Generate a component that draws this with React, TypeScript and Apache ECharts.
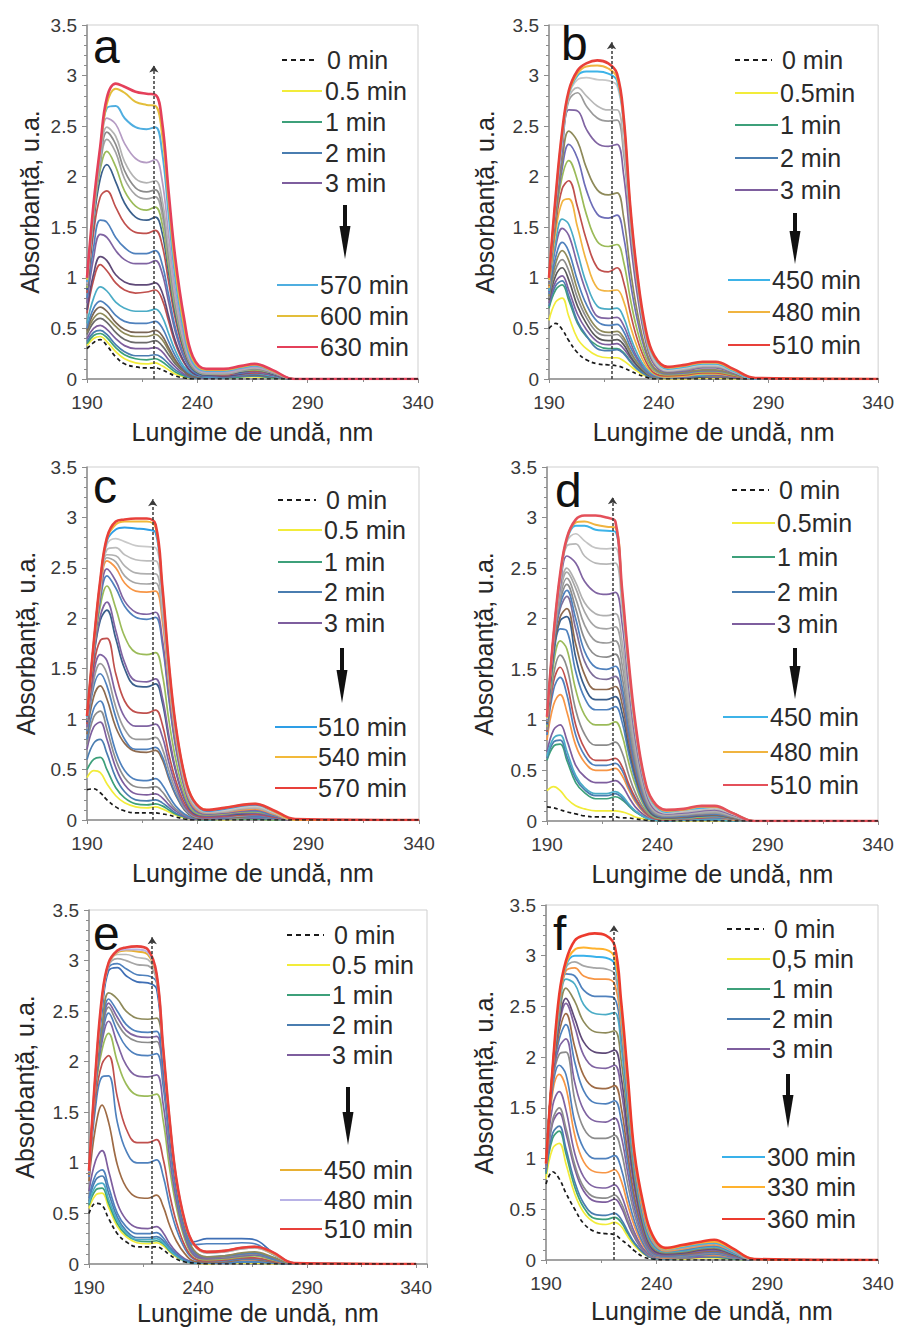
import React, { useEffect, useRef } from 'react';
import * as echarts from 'echarts';

// Wavelength grid (nm) shared by every spectrum
const WL = [190, 193, 196, 199, 203, 207, 212, 217, 221, 224, 227, 230, 234, 238, 244, 252, 260, 266, 274, 284, 340];

// ---------- Panel a ----------
const A_LEGEND = ['0 min', '0.5 min', '1 min', '2 min', '3 min', '570 min', '600 min', '630 min'];
const A_VALUES = [
  [0.30,0.36,0.39,0.33,0.22,0.15,0.12,0.11,0.11,0.09, 0.06,0.03,0.01,0,0,0,0,0,0,0, 0],
  [0.33,0.40,0.42,0.37,0.27,0.20,0.16,0.15,0.16,0.13, 0.09,0.05,0.02,0.01,0.01,0.01,0.02,0.02,0.01,0, 0],
  [0.35,0.43,0.45,0.41,0.31,0.24,0.20,0.19,0.20,0.17, 0.12,0.07,0.03,0.01,0.01,0.01,0.02,0.03,0.01,0, 0],
  [0.37,0.46,0.48,0.44,0.34,0.27,0.23,0.23,0.24,0.21, 0.15,0.09,0.04,0.01,0.01,0.01,0.03,0.03,0.02,0, 0],
  [0.40,0.50,0.53,0.49,0.40,0.33,0.30,0.30,0.31,0.27, 0.19,0.12,0.05,0.02,0.01,0.02,0.03,0.04,0.02,0, 0],
  [0.44,0.56,0.60,0.56,0.46,0.39,0.36,0.36,0.38,0.33, 0.24,0.15,0.07,0.02,0.02,0.02,0.04,0.04,0.02,0, 0],
  [0.46,0.60,0.65,0.61,0.52,0.45,0.42,0.42,0.44,0.39, 0.28,0.17,0.08,0.03,0.02,0.02,0.04,0.05,0.03,0, 0],
  [0.48,0.65,0.71,0.67,0.56,0.49,0.46,0.46,0.48,0.43, 0.31,0.19,0.08,0.03,0.02,0.02,0.04,0.05,0.03,0, 0],
  [0.50,0.70,0.77,0.73,0.63,0.57,0.55,0.55,0.57,0.51, 0.37,0.23,0.10,0.04,0.02,0.02,0.04,0.05,0.03,0, 0],
  [0.55,0.80,0.91,0.87,0.76,0.70,0.67,0.67,0.69,0.62, 0.45,0.28,0.12,0.05,0.02,0.03,0.05,0.06,0.03,0, 0],
  [0.65,0.98,1.13,1.07,0.95,0.88,0.85,0.86,0.88,0.79, 0.57,0.35,0.16,0.06,0.03,0.03,0.05,0.06,0.04,0, 0],
  [0.68,1.04,1.21,1.17,1.03,0.96,0.93,0.93,0.95,0.86, 0.62,0.38,0.17,0.06,0.03,0.03,0.05,0.07,0.04,0, 0],
  [0.75,1.20,1.43,1.40,1.27,1.18,1.14,1.14,1.17,1.05, 0.76,0.47,0.21,0.08,0.03,0.04,0.06,0.07,0.04,0, 0],
  [0.80,1.30,1.57,1.55,1.40,1.30,1.24,1.24,1.27,1.14, 0.83,0.51,0.23,0.08,0.03,0.04,0.06,0.08,0.05,0, 0],
  [0.85,1.45,1.80,1.86,1.70,1.54,1.45,1.44,1.47,1.33, 0.96,0.60,0.27,0.10,0.04,0.04,0.07,0.08,0.05,0, 0],
  [0.88,1.55,1.98,2.12,1.95,1.74,1.60,1.57,1.60,1.45, 1.05,0.65,0.29,0.10,0.04,0.05,0.07,0.09,0.05,0, 0],
  [0.90,1.60,2.07,2.25,2.10,1.86,1.71,1.67,1.70,1.54, 1.11,0.69,0.31,0.11,0.05,0.05,0.08,0.09,0.06,0, 0],
  [0.92,1.62,2.12,2.37,2.24,1.98,1.82,1.78,1.80,1.63, 1.18,0.73,0.33,0.12,0.05,0.05,0.08,0.10,0.06,0, 0],
  [0.93,1.64,2.15,2.44,2.32,2.06,1.89,1.85,1.87,1.70, 1.23,0.76,0.34,0.12,0.06,0.06,0.09,0.10,0.06,0, 0],
  [0.94,1.65,2.18,2.49,2.40,2.15,1.98,1.94,1.96,1.78, 1.29,0.80,0.36,0.13,0.06,0.06,0.09,0.11,0.07,0, 0],
  [0.95,1.66,2.20,2.58,2.52,2.33,2.18,2.14,2.17,1.97, 1.42,0.88,0.40,0.14,0.07,0.07,0.10,0.12,0.07,0, 0],
  [0.96,1.68,2.25,2.68,2.70,2.58,2.49,2.47,2.49,2.25, 1.62,1.00,0.46,0.16,0.08,0.08,0.11,0.13,0.08,0, 0],
  [0.98,1.70,2.27,2.72,2.87,2.83,2.74,2.71,2.70,2.42, 1.75,1.10,0.52,0.19,0.09,0.09,0.12,0.14,0.08,0, 0],
  [1.00,1.74,2.30,2.78,2.92,2.89,2.84,2.82,2.81,2.55, 1.85,1.20,0.60,0.22,0.10,0.10,0.13,0.15,0.09,0, 0],
];

// ---------- Panel b ----------
const B_LEGEND = ['0 min', '0.5min', '1 min', '2 min', '3 min', '450 min', '480 min', '510 min'];
const B_VALUES = [
  [0.50,0.55,0.49,0.38,0.26,0.19,0.15,0.14,0.13,0.11, 0.08,0.05,0.02,0,0,0,0,0,0,0, 0],
  [0.58,0.76,0.80,0.62,0.40,0.30,0.23,0.21,0.21,0.18, 0.13,0.08,0.03,0.01,0,0,0.01,0.01,0,0, 0],
  [0.70,0.88,0.93,0.78,0.55,0.42,0.33,0.30,0.30,0.26, 0.18,0.11,0.05,0.02,0.01,0.01,0.02,0.02,0.01,0, 0],
  [0.72,0.92,0.97,0.82,0.57,0.43,0.30,0.28,0.29,0.25, 0.17,0.10,0.04,0.01,0.01,0.01,0.02,0.02,0.01,0, 0],
  [0.75,0.96,1.02,0.88,0.64,0.49,0.37,0.34,0.35,0.30, 0.21,0.13,0.06,0.02,0.01,0.01,0.02,0.02,0.01,0, 0],
  [0.78,1.02,1.10,0.98,0.72,0.55,0.41,0.38,0.39,0.34, 0.23,0.14,0.06,0.02,0.01,0.01,0.02,0.03,0.01,0, 0],
  [0.80,1.08,1.18,1.07,0.80,0.61,0.46,0.43,0.44,0.38, 0.26,0.16,0.07,0.02,0.01,0.02,0.03,0.03,0.02,0, 0],
  [0.82,1.14,1.27,1.17,0.88,0.66,0.50,0.46,0.47,0.41, 0.28,0.17,0.07,0.02,0.01,0.02,0.03,0.03,0.02,0, 0],
  [0.84,1.20,1.35,1.26,0.97,0.74,0.57,0.53,0.54,0.47, 0.32,0.20,0.08,0.03,0.01,0.02,0.03,0.04,0.02,0, 0],
  [0.86,1.30,1.49,1.42,1.13,0.86,0.62,0.60,0.61,0.53, 0.37,0.22,0.10,0.03,0.02,0.02,0.04,0.04,0.02,0, 0],
  [0.87,1.35,1.58,1.53,1.25,0.95,0.72,0.69,0.70,0.61, 0.42,0.26,0.11,0.04,0.02,0.03,0.04,0.05,0.03,0, 0],
  [0.90,1.45,1.75,1.78,1.50,1.17,0.90,0.87,0.88,0.77, 0.53,0.33,0.14,0.05,0.02,0.03,0.05,0.05,0.03,0, 0],
  [0.92,1.52,1.88,1.96,1.70,1.38,1.10,1.06,1.10,0.96, 0.66,0.41,0.18,0.06,0.03,0.04,0.06,0.06,0.03,0, 0],
  [0.93,1.58,2.00,2.16,1.96,1.63,1.36,1.31,1.33,1.16, 0.80,0.50,0.22,0.08,0.04,0.05,0.07,0.07,0.04,0, 0],
  [0.94,1.62,2.08,2.32,2.18,1.87,1.63,1.59,1.62,1.41, 0.97,0.61,0.27,0.10,0.05,0.06,0.08,0.08,0.05,0, 0],
  [0.95,1.65,2.15,2.45,2.35,2.09,1.87,1.82,1.84,1.60, 1.10,0.69,0.30,0.11,0.06,0.07,0.09,0.09,0.05,0, 0],
  [0.96,1.70,2.25,2.66,2.65,2.47,2.33,2.30,2.32,2.02, 1.39,0.87,0.38,0.14,0.07,0.08,0.11,0.11,0.06,0, 0],
  [0.97,1.73,2.32,2.75,2.83,2.70,2.58,2.55,2.56,2.23, 1.53,0.96,0.42,0.16,0.08,0.09,0.12,0.12,0.07,0, 0],
  [0.97,1.74,2.35,2.78,2.88,2.80,2.70,2.66,2.66,2.31, 1.59,1.00,0.44,0.17,0.08,0.10,0.13,0.13,0.07,0, 0],
  [0.97,1.75,2.38,2.80,2.96,2.98,2.96,2.95,2.90,2.50, 1.65,1.03,0.46,0.19,0.09,0.11,0.14,0.14,0.08,0, 0],
  [0.98,1.76,2.40,2.82,3.00,3.04,3.04,3.02,2.95,2.54, 1.67,1.05,0.47,0.21,0.10,0.12,0.15,0.15,0.08,0, 0],
  [0.98,1.78,2.43,2.83,3.02,3.09,3.10,3.07,2.98,2.56, 1.70,1.06,0.48,0.22,0.11,0.13,0.16,0.16,0.09,0.01, 0],
  [1.00,1.80,2.45,2.85,3.05,3.12,3.15,3.12,3.02,2.60, 1.72,1.08,0.50,0.23,0.12,0.14,0.17,0.17,0.10,0.01, 0],
];

// ---------- Panel c ----------
const C_LEGEND = ['0 min', '0.5 min', '1 min', '2 min', '3 min', '510 min', '540 min', '570 min'];
const C_VALUES = [
  [0.30,0.31,0.27,0.20,0.13,0.09,0.07,0.07,0.07,0.06, 0.05,0.03,0.01,0,0,0,0,0,0,0, 0],
  [0.42,0.49,0.47,0.36,0.24,0.17,0.13,0.12,0.13,0.11, 0.08,0.05,0.02,0.01,0,0,0.01,0.01,0,0, 0],
  [0.50,0.60,0.62,0.50,0.32,0.22,0.16,0.15,0.16,0.14, 0.10,0.06,0.03,0.01,0,0.01,0.01,0.01,0,0, 0],
  [0.60,0.76,0.80,0.66,0.42,0.28,0.20,0.19,0.20,0.17, 0.12,0.07,0.03,0.01,0,0.01,0.02,0.02,0.01,0, 0],
  [0.70,0.92,0.97,0.80,0.52,0.35,0.26,0.25,0.26,0.22, 0.15,0.09,0.04,0.01,0.01,0.01,0.02,0.02,0.01,0, 0],
  [0.75,1.02,1.08,0.90,0.60,0.42,0.33,0.32,0.33,0.28, 0.19,0.11,0.05,0.02,0.01,0.01,0.02,0.03,0.01,0, 0],
  [0.80,1.10,1.18,1.00,0.68,0.49,0.40,0.39,0.41,0.35, 0.24,0.14,0.06,0.02,0.01,0.02,0.03,0.03,0.02,0, 0],
  [0.85,1.22,1.33,1.20,0.92,0.76,0.68,0.67,0.69,0.60, 0.41,0.25,0.10,0.03,0.01,0.02,0.03,0.04,0.02,0, 0],
  [0.88,1.32,1.45,1.33,1.02,0.80,0.70,0.70,0.72,0.63, 0.43,0.26,0.11,0.04,0.02,0.02,0.04,0.04,0.02,0, 0],
  [0.90,1.38,1.55,1.45,1.12,0.90,0.80,0.80,0.82,0.71, 0.49,0.30,0.12,0.04,0.02,0.03,0.04,0.05,0.03,0, 0],
  [0.92,1.45,1.64,1.58,1.25,1.02,0.93,0.93,0.95,0.83, 0.57,0.35,0.14,0.05,0.02,0.03,0.05,0.05,0.03,0, 0],
  [0.95,1.52,1.78,1.80,1.45,1.18,1.07,1.06,1.09,0.95, 0.65,0.40,0.17,0.06,0.03,0.04,0.05,0.06,0.03,0, 0],
  [0.97,1.60,1.98,2.08,1.80,1.50,1.33,1.32,1.35,1.17, 0.80,0.49,0.21,0.07,0.04,0.05,0.06,0.07,0.04,0, 0],
  [0.98,1.62,2.02,2.16,1.88,1.56,1.38,1.37,1.40,1.22, 0.84,0.51,0.22,0.08,0.04,0.05,0.07,0.07,0.04,0, 0],
  [0.99,1.66,2.12,2.32,2.10,1.82,1.66,1.64,1.66,1.45, 0.99,0.61,0.26,0.09,0.05,0.06,0.08,0.08,0.05,0, 0],
  [1.00,1.68,2.18,2.42,2.30,2.12,2.01,1.99,2.01,1.75, 1.20,0.73,0.32,0.11,0.06,0.07,0.09,0.09,0.05,0, 0],
  [1.00,1.69,2.22,2.49,2.37,2.17,2.06,2.04,2.06,1.80, 1.23,0.75,0.33,0.12,0.06,0.07,0.09,0.10,0.06,0, 0],
  [1.01,1.70,2.26,2.57,2.50,2.35,2.27,2.26,2.27,1.98, 1.35,0.83,0.36,0.14,0.07,0.08,0.10,0.11,0.06,0, 0],
  [1.01,1.71,2.28,2.60,2.56,2.42,2.35,2.34,2.35,2.04, 1.40,0.86,0.38,0.15,0.07,0.08,0.11,0.12,0.07,0, 0],
  [1.01,1.72,2.30,2.63,2.62,2.52,2.45,2.44,2.44,2.10, 1.44,0.88,0.39,0.16,0.08,0.09,0.12,0.12,0.07,0, 0],
  [1.02,1.72,2.32,2.68,2.70,2.63,2.58,2.57,2.57,2.18, 1.48,0.90,0.41,0.17,0.08,0.09,0.12,0.13,0.08,0, 0],
  [1.02,1.73,2.34,2.73,2.79,2.76,2.72,2.71,2.70,2.24, 1.50,0.92,0.43,0.18,0.09,0.10,0.13,0.14,0.08,0, 0],
  [1.02,1.74,2.36,2.77,2.88,2.90,2.89,2.88,2.85,2.28, 1.52,0.93,0.44,0.19,0.09,0.11,0.14,0.15,0.09,0, 0],
  [1.03,1.74,2.37,2.79,2.93,2.96,2.96,2.96,2.90,2.31, 1.54,0.94,0.45,0.20,0.10,0.12,0.15,0.16,0.09,0, 0],
  [1.03,1.75,2.38,2.80,2.96,2.98,2.99,2.99,2.93,2.33, 1.55,0.95,0.45,0.20,0.10,0.12,0.15,0.16,0.10,0.01, 0],
];

// ---------- Panel d ----------
const D_LEGEND = ['0 min', '0.5min', '1 min', '2 min', '3 min', '450 min', '480 min', '510 min'];
const D_VALUES = [
  [0.14,0.13,0.11,0.09,0.07,0.05,0.04,0.04,0.04,0.03, 0.03,0.02,0.01,0,0,0,0,0,0,0, 0],
  [0.30,0.34,0.30,0.22,0.15,0.12,0.10,0.10,0.10,0.09, 0.07,0.04,0.02,0.01,0,0,0,0,0,0, 0],
  [0.60,0.74,0.76,0.60,0.38,0.28,0.22,0.22,0.24,0.21, 0.15,0.09,0.04,0.01,0,0.01,0.01,0.01,0,0, 0],
  [0.62,0.78,0.80,0.64,0.42,0.31,0.25,0.25,0.27,0.23, 0.16,0.10,0.04,0.01,0,0.01,0.01,0.01,0,0, 0],
  [0.68,0.90,0.95,0.80,0.55,0.44,0.38,0.38,0.40,0.35, 0.24,0.14,0.06,0.02,0.01,0.01,0.02,0.02,0.01,0, 0],
  [0.64,0.82,0.85,0.69,0.45,0.33,0.27,0.27,0.29,0.25, 0.17,0.10,0.04,0.01,0,0.01,0.02,0.02,0,0, 0],
  [0.80,1.15,1.25,1.08,0.75,0.58,0.50,0.50,0.52,0.45, 0.31,0.19,0.08,0.03,0.01,0.02,0.03,0.03,0.01,0, 0],
  [0.85,1.30,1.42,1.25,0.85,0.65,0.55,0.55,0.57,0.50, 0.34,0.21,0.09,0.03,0.01,0.02,0.03,0.03,0.02,0, 0],
  [0.88,1.38,1.52,1.36,0.95,0.72,0.60,0.60,0.62,0.54, 0.37,0.23,0.10,0.03,0.01,0.02,0.03,0.04,0.02,0, 0],
  [0.90,1.45,1.64,1.52,1.10,0.86,0.75,0.75,0.78,0.68, 0.46,0.28,0.12,0.04,0.02,0.02,0.04,0.04,0.02,0, 0],
  [0.93,1.55,1.78,1.70,1.30,1.05,0.95,0.95,0.98,0.85, 0.58,0.36,0.15,0.05,0.02,0.03,0.04,0.05,0.03,0, 0],
  [0.95,1.62,1.90,1.88,1.48,1.22,1.10,1.10,1.13,0.98, 0.67,0.41,0.17,0.06,0.03,0.03,0.05,0.05,0.03,0, 0],
  [0.96,1.68,1.98,2.02,1.62,1.33,1.20,1.20,1.23,1.07, 0.73,0.45,0.19,0.06,0.03,0.04,0.05,0.06,0.03,0, 0],
  [0.97,1.70,2.02,2.10,1.75,1.45,1.30,1.30,1.33,1.16, 0.79,0.48,0.20,0.07,0.03,0.04,0.06,0.06,0.03,0, 0],
  [0.98,1.74,2.10,2.22,1.90,1.58,1.42,1.40,1.43,1.25, 0.85,0.52,0.22,0.08,0.04,0.05,0.06,0.07,0.04,0, 0],
  [0.98,1.76,2.14,2.28,2.00,1.68,1.52,1.50,1.53,1.33, 0.91,0.56,0.24,0.08,0.04,0.05,0.07,0.07,0.04,0, 0],
  [0.99,1.78,2.18,2.34,2.10,1.80,1.64,1.62,1.65,1.43, 0.98,0.60,0.26,0.09,0.05,0.06,0.07,0.08,0.04,0, 0],
  [0.99,1.79,2.22,2.40,2.20,1.94,1.78,1.76,1.78,1.55, 1.06,0.65,0.28,0.10,0.05,0.06,0.08,0.08,0.05,0, 0],
  [1.00,1.80,2.26,2.46,2.30,2.07,1.92,1.90,1.92,1.67, 1.14,0.70,0.30,0.11,0.06,0.07,0.08,0.09,0.05,0, 0],
  [1.00,1.80,2.28,2.50,2.36,2.16,2.05,2.03,2.05,1.78, 1.22,0.75,0.32,0.12,0.06,0.07,0.09,0.10,0.05,0, 0],
  [1.00,1.81,2.32,2.62,2.55,2.37,2.26,2.24,2.26,1.96, 1.34,0.82,0.36,0.13,0.07,0.08,0.10,0.11,0.06,0, 0],
  [1.01,1.82,2.36,2.72,2.74,2.62,2.55,2.54,2.55,2.10, 1.43,0.88,0.39,0.15,0.08,0.09,0.11,0.12,0.07,0, 0],
  [1.01,1.83,2.40,2.76,2.84,2.77,2.70,2.69,2.70,2.18, 1.48,0.91,0.41,0.17,0.08,0.10,0.12,0.13,0.07,0, 0],
  [1.02,1.84,2.42,2.78,2.92,2.92,2.88,2.87,2.86,2.24, 1.53,0.94,0.42,0.18,0.09,0.11,0.13,0.14,0.08,0, 0],
  [1.02,1.84,2.43,2.79,2.95,2.96,2.93,2.91,2.90,2.26, 1.55,0.95,0.43,0.19,0.10,0.11,0.14,0.14,0.08,0, 0],
  [1.03,1.85,2.45,2.80,2.98,3.02,3.02,3.00,2.96,2.30, 1.58,0.98,0.44,0.20,0.11,0.12,0.15,0.15,0.08,0, 0],
];

// ---------- Panel e ----------
const E_LEGEND = ['0 min', '0.5 min', '1 min', '2 min', '3 min', '450 min', '480 min', '510 min'];
const E_VALUES = [
  [0.50,0.60,0.58,0.45,0.30,0.22,0.17,0.17,0.17,0.14, 0.09,0.05,0.02,0.01,0,0,0,0,0,0, 0],
  [0.55,0.68,0.70,0.56,0.37,0.27,0.21,0.20,0.21,0.18, 0.12,0.07,0.03,0.01,0,0.01,0.01,0.01,0,0, 0],
  [0.58,0.73,0.75,0.60,0.40,0.29,0.23,0.22,0.23,0.20, 0.13,0.08,0.03,0.01,0.01,0.01,0.02,0.02,0.01,0, 0],
  [0.62,0.83,0.87,0.70,0.46,0.33,0.26,0.26,0.27,0.23, 0.15,0.09,0.04,0.01,0.01,0.01,0.02,0.02,0.01,0, 0],
  [0.72,1.02,1.12,0.92,0.60,0.44,0.36,0.35,0.37,0.31, 0.20,0.12,0.05,0.02,0.01,0.01,0.02,0.02,0.01,0, 0],
  [0.60,0.77,0.80,0.64,0.43,0.31,0.24,0.24,0.25,0.21, 0.14,0.08,0.03,0.01,0.01,0.01,0.02,0.02,0.01,0, 0],
  [0.65,0.88,0.93,0.76,0.50,0.37,0.30,0.30,0.31,0.26, 0.17,0.10,0.04,0.02,0.01,0.01,0.02,0.02,0.01,0, 0],
  [0.82,1.35,1.57,1.40,0.98,0.76,0.66,0.65,0.68,0.57, 0.38,0.23,0.10,0.03,0.02,0.02,0.04,0.04,0.02,0, 0],
  [0.86,1.55,1.85,1.86,1.40,1.12,1.00,1.00,1.03,0.87, 0.58,0.35,0.15,0.05,0.03,0.03,0.05,0.05,0.03,0, 0],
  [0.88,1.65,1.98,2.06,1.65,1.34,1.20,1.20,1.23,1.04, 0.69,0.42,0.18,0.06,0.03,0.04,0.06,0.06,0.03,0, 0],
  [0.89,1.72,2.12,2.28,2.00,1.78,1.67,1.66,1.68,1.42, 0.94,0.57,0.24,0.08,0.04,0.05,0.07,0.08,0.04,0, 0],
  [0.90,1.75,2.20,2.40,2.18,1.97,1.86,1.85,1.87,1.58, 1.05,0.63,0.27,0.09,0.05,0.06,0.08,0.09,0.05,0, 0],
  [0.90,1.77,2.25,2.48,2.30,2.15,2.07,2.06,2.08,1.76, 1.17,0.70,0.30,0.11,0.06,0.07,0.09,0.10,0.05,0, 0],
  [0.90,1.78,2.28,2.54,2.38,2.26,2.20,2.19,2.20,1.86, 1.23,0.74,0.32,0.12,0.06,0.07,0.09,0.10,0.06,0, 0],
  [0.90,1.79,2.30,2.58,2.44,2.31,2.25,2.24,2.25,1.90, 1.26,0.76,0.33,0.12,0.06,0.08,0.10,0.11,0.06,0, 0],
  [0.91,1.80,2.32,2.62,2.50,2.37,2.30,2.29,2.30,1.95, 1.29,0.78,0.34,0.13,0.07,0.08,0.10,0.11,0.06,0, 0],
  [0.91,1.81,2.35,2.68,2.62,2.50,2.43,2.42,2.43,2.06, 1.36,0.82,0.36,0.14,0.07,0.08,0.11,0.12,0.07,0, 0],
  [0.91,1.84,2.50,2.90,2.93,2.85,2.79,2.78,2.72,2.00, 1.33,0.80,0.38,0.22,0.25,0.25,0.25,0.24,0.12,0.01, 0],
  [0.91,1.85,2.55,2.93,2.97,2.92,2.86,2.85,2.78,2.03, 1.36,0.82,0.39,0.19,0.20,0.20,0.21,0.20,0.10,0.01, 0],
  [0.91,1.86,2.58,2.95,3.02,3.00,2.96,2.95,2.80,2.07, 1.38,0.83,0.40,0.19,0.11,0.12,0.15,0.16,0.10,0.01, 0],
  [0.92,1.87,2.60,2.96,3.06,3.06,3.03,3.01,2.83,2.10, 1.40,0.84,0.41,0.19,0.11,0.12,0.15,0.16,0.11,0.01, 0],
  [0.92,1.88,2.62,2.97,3.08,3.10,3.09,3.06,2.85,2.12, 1.41,0.84,0.41,0.20,0.12,0.13,0.16,0.17,0.11,0.01, 0],
  [0.92,1.88,2.63,2.97,3.09,3.11,3.11,3.08,2.86,2.13, 1.42,0.85,0.42,0.20,0.12,0.13,0.16,0.17,0.12,0.01, 0],
  [0.92,1.90,2.65,2.98,3.10,3.13,3.14,3.11,2.87,2.14, 1.42,0.85,0.42,0.20,0.12,0.13,0.16,0.17,0.12,0.01, 0],
];

// ---------- Panel f ----------
const F_LEGEND = ['0 min', '0,5 min', '1 min', '2 min', '3 min', '300 min', '330 min', '360 min'];
const F_VALUES = [
  [0.75,0.87,0.80,0.66,0.50,0.36,0.28,0.26,0.25,0.20, 0.15,0.09,0.03,0.01,0,0,0,0,0,0, 0],
  [0.80,1.10,1.15,0.95,0.65,0.47,0.37,0.35,0.37,0.33, 0.23,0.14,0.06,0.02,0.01,0.01,0.02,0.02,0.01,0, 0],
  [0.85,1.20,1.27,1.05,0.72,0.52,0.41,0.40,0.42,0.37, 0.26,0.16,0.07,0.02,0.01,0.02,0.03,0.03,0.01,0, 0],
  [0.87,1.25,1.32,1.10,0.77,0.56,0.45,0.44,0.46,0.40, 0.28,0.17,0.07,0.02,0.01,0.02,0.03,0.03,0.02,0, 0],
  [0.90,1.35,1.45,1.25,0.90,0.68,0.58,0.57,0.60,0.52, 0.36,0.22,0.09,0.03,0.02,0.02,0.03,0.04,0.02,0, 0],
  [0.91,1.38,1.50,1.30,0.94,0.72,0.62,0.61,0.64,0.56, 0.39,0.24,0.10,0.03,0.02,0.02,0.04,0.04,0.02,0, 0],
  [0.93,1.52,1.66,1.48,1.05,0.82,0.72,0.71,0.74,0.64, 0.45,0.27,0.11,0.04,0.02,0.03,0.04,0.05,0.03,0, 0],
  [0.95,1.65,1.83,1.70,1.23,0.97,0.87,0.86,0.89,0.78, 0.54,0.33,0.14,0.05,0.02,0.03,0.05,0.05,0.03,0, 0],
  [0.95,1.70,1.92,1.83,1.36,1.10,1.00,1.00,1.03,0.90, 0.62,0.38,0.16,0.05,0.03,0.03,0.05,0.06,0.03,0, 0],
  [0.96,1.76,2.03,2.05,1.58,1.30,1.20,1.20,1.23,1.07, 0.74,0.45,0.19,0.06,0.03,0.04,0.06,0.07,0.04,0, 0],
  [0.96,1.80,2.10,2.18,1.75,1.48,1.37,1.36,1.40,1.22, 0.85,0.51,0.22,0.07,0.04,0.05,0.07,0.08,0.04,0, 0],
  [0.96,1.82,2.18,2.32,1.95,1.67,1.55,1.54,1.57,1.37, 0.95,0.57,0.25,0.08,0.04,0.05,0.08,0.08,0.05,0, 0],
  [0.96,1.84,2.25,2.43,2.10,1.82,1.70,1.69,1.72,1.50, 1.04,0.62,0.27,0.09,0.05,0.06,0.08,0.09,0.05,0, 0],
  [0.96,1.85,2.32,2.53,2.30,2.02,1.90,1.89,1.92,1.67, 1.16,0.70,0.30,0.10,0.05,0.07,0.09,0.10,0.06,0, 0],
  [0.96,1.86,2.35,2.58,2.38,2.15,2.05,2.04,2.07,1.80, 1.25,0.75,0.33,0.11,0.06,0.07,0.10,0.11,0.06,0, 0],
  [0.96,1.87,2.40,2.68,2.55,2.35,2.25,2.24,2.26,1.96, 1.37,0.82,0.36,0.13,0.07,0.08,0.11,0.12,0.07,0, 0],
  [0.96,1.87,2.45,2.77,2.72,2.52,2.43,2.42,2.44,2.10, 1.47,0.88,0.39,0.15,0.08,0.09,0.12,0.13,0.07,0, 0],
  [0.96,1.88,2.48,2.82,2.80,2.66,2.60,2.60,2.58,2.22, 1.55,0.92,0.42,0.17,0.09,0.10,0.13,0.14,0.08,0, 0],
  [0.96,1.88,2.50,2.85,2.88,2.80,2.77,2.77,2.72,2.30, 1.62,0.96,0.45,0.19,0.09,0.11,0.14,0.15,0.09,0, 0],
  [0.96,1.88,2.52,2.88,2.94,2.90,2.88,2.87,2.82,2.36, 1.67,0.98,0.48,0.20,0.10,0.12,0.15,0.16,0.09,0, 0],
  [0.95,1.89,2.55,2.90,3.00,3.00,2.99,2.98,2.92,2.42, 1.72,1.00,0.50,0.22,0.11,0.13,0.16,0.17,0.10,0.01, 0],
  [0.95,1.89,2.58,2.92,3.06,3.08,3.07,3.06,2.98,2.46, 1.75,1.02,0.52,0.23,0.11,0.14,0.17,0.18,0.11,0.01, 0],
  [0.95,1.90,2.62,2.95,3.15,3.20,3.22,3.20,3.10,2.54, 1.80,1.05,0.55,0.25,0.12,0.15,0.18,0.20,0.12,0.01, 0],
];

// Dotted marker line (wavelength, top absorbance) for panels a..f
const MARKER_WL = [220.3, 218.5, 219.7, 219.7, 219.0, 220.7];
const MARKER_TOP = [3.1, 3.33, 3.18, 3.2, 3.23, 3.3];
const PANEL_LETTERS = ['a', 'b', 'c', 'd', 'e', 'f'];
const X_TICKS_MAX = [340, 340, 340, 340, 345, 340];
const X_TITLE = 'Lungime de undă, nm';
const Y_TITLE = 'Absorbanță, u.a.';

// ---------- styles ----------
const FONT = "'Liberation Sans', Arial, Helvetica, sans-serif";
const FIRST_COLORS = ['#1a1a1a', '#F2EC3A', '#3DA07A', '#4A7DB0', '#7E5E9E'];
const MID_COLORS = [
  ['#6B6B6B','#8E8A5A','#7A6656','#4F81BD','#4BACC6','#C0504D','#5F4A78','#8064A2','#4F81BD','#C0504D','#3A5F8C','#9BBB59','#A3A3A3','#8C8C8C','#B3B3B3','#B59CC4'],
  ['#595959','#8C8C8C','#8E8A5A','#4F81BD','#8064A2','#4BACC6','#F2B441','#C0504D','#9BBB59','#6D6DB8','#8E8A5A','#8064A2','#9A9A9A','#B8B8B8','#C8C8C8'],
  ['#8C8C8C','#4F81BD','#8E6A4E','#4F81BD','#9A9A9A','#8064A2','#C0504D','#3A5F8C','#8064A2','#9BBB59','#4F81BD','#8064A2','#F79646','#A6A6A6','#B0B0B0','#BDBDBD','#C9C9C9'],
  ['#4BACC6','#F79646','#4F81BD','#C0504D','#8C8C8C','#9BBB59','#4F81BD','#3A5F8C','#8E6A4E','#7E6E9A','#4F81BD','#8C8C8C','#9A9A9A','#A6A6A6','#B0B0B0','#8064A2','#B8B8B8','#C4C4C4'],
  ['#4BACC6','#4F81BD','#9E6B45','#4F81BD','#C0504D','#9BBB59','#8064A2','#4F81BD','#8C8C8C','#8064A2','#4F81BD','#8E8A5A','#3F6FB5','#4F81BD','#A6A6A6','#B8B8B8'],
  ['#8C8C8C','#8064A2','#F79646','#4F81BD','#8C8C8C','#8064A2','#4F81BD','#9E6B45','#8064A2','#5F4A78','#8E8A5A','#4BACC6','#4F81BD','#F79646','#A6A6A6'],
];
const LAST_COLORS = [
  ['#4FAEE0','#E3BE3A','#E4405A'],
  ['#3DB3E8','#F0B440','#E8403A'],
  ['#2E9EE6','#F2B93A','#E8403A'],
  ['#3DB3E8','#F0B440','#E4505A'],
  ['#E8B033','#B8B2E6','#E8403A'],
  ['#39B1EA','#FFB22E','#EC3B2E'],
];

const LAYOUT = [
  { grid: { left: 87, top: 25, width: 331, height: 354 }, yGap: 45, xGap: 40, letter: [93, 46],
    up: { ys: [60, 91, 122, 153, 183], l1: 282, l2: 322, tx: 325 }, low: { ys: [285, 316, 347], l1: 277, l2: 318, tx: 320 }, arrow: [345, 205, 259] },
  { grid: { left: 549, top: 25, width: 330, height: 354 }, yGap: 52, xGap: 40, letter: [561, 43],
    up: { ys: [60, 93, 125, 158, 190], l1: 735, l2: 778, tx: 780 }, low: { ys: [280, 312, 345], l1: 728, l2: 770, tx: 772 }, arrow: [795, 213, 264] },
  { grid: { left: 87, top: 467, width: 332, height: 353 }, yGap: 49, xGap: 40, letter: [93, 486],
    up: { ys: [500, 530, 562, 592, 623], l1: 278, l2: 322, tx: 324 }, low: { ys: [727, 757, 788], l1: 275, l2: 317, tx: 318 }, arrow: [342, 648, 703] },
  { grid: { left: 547, top: 467, width: 331, height: 354 }, yGap: 51, xGap: 40, letter: [555, 490],
    up: { ys: [490, 523, 557, 592, 624], l1: 732, l2: 775, tx: 777 }, low: { ys: [717, 752, 785], l1: 723, l2: 768, tx: 770 }, arrow: [795, 648, 699] },
  { grid: { left: 89, top: 910, width: 338, height: 354 }, yGap: 52, xGap: 36, letter: [93, 933],
    up: { ys: [935, 965, 995, 1025, 1055], l1: 287, l2: 330, tx: 332 }, low: { ys: [1170, 1200, 1229], l1: 280, l2: 322, tx: 324 }, arrow: [348, 1087, 1145] },
  { grid: { left: 546, top: 905, width: 332, height: 355 }, yGap: 50, xGap: 38, letter: [553, 933],
    up: { ys: [929, 959, 989, 1019, 1049], l1: 727, l2: 770, tx: 772 }, low: { ys: [1157, 1187, 1219], l1: 722, l2: 765, tx: 767 }, arrow: [788, 1074, 1128] },
];

const PANEL_VALUES = [A_VALUES, B_VALUES, C_VALUES, D_VALUES, E_VALUES, F_VALUES];
const PANEL_LEGENDS = [A_LEGEND, B_LEGEND, C_LEGEND, D_LEGEND, E_LEGEND, F_LEGEND];

function colorFor(pi: number, ci: number, n: number) {
  if (ci < 5) return FIRST_COLORS[ci];
  if (ci >= n - 3) return LAST_COLORS[pi][ci - (n - 3)];
  return MID_COLORS[pi][ci - 5] || '#999999';
}

function buildOption() {
  const grid: any[] = [];
  const xAxis: any[] = [];
  const yAxis: any[] = [];
  const series: any[] = [];
  const graphic: any[] = [];
  const axisColor = '#8c8c8c';

  PANEL_VALUES.forEach((vals, pi) => {
    const L = LAYOUT[pi];
    const legend = PANEL_LEGENDS[pi];
    const n = vals.length;
    grid.push({ ...L.grid, show: true, borderColor: '#cfcfcf', borderWidth: 1, backgroundColor: '#ffffff' });
    xAxis.push({
      type: 'value', gridIndex: pi, min: 190, max: X_TICKS_MAX[pi], interval: 50,
      name: X_TITLE, nameLocation: 'middle', nameGap: L.xGap,
      nameTextStyle: { fontSize: 25, color: '#262626', fontFamily: FONT },
      axisLine: { show: true, onZero: false, lineStyle: { color: axisColor, width: 1.5 } },
      axisTick: { show: true, length: 4, lineStyle: { color: axisColor } },
      minorTick: { show: true, splitNumber: 2, length: 3, lineStyle: { color: axisColor } },
      splitLine: { show: false },
      axisLabel: { fontSize: 19, color: '#3a3a3a', margin: 14, fontFamily: FONT,
        formatter: (v: number) => (v > 340 ? '' : String(v)) },
    });
    yAxis.push({
      type: 'value', gridIndex: pi, min: 0, max: 3.5, interval: 0.5,
      name: Y_TITLE, nameLocation: 'middle', nameRotate: 90, nameGap: L.yGap,
      nameTextStyle: { fontSize: 25, color: '#262626', fontFamily: FONT },
      axisLine: { show: true, lineStyle: { color: axisColor, width: 1.5 } },
      axisTick: { show: true, length: 5, lineStyle: { color: axisColor } },
      minorTick: { show: true, splitNumber: 5, length: 3, lineStyle: { color: axisColor } },
      splitLine: { show: false },
      axisLabel: { fontSize: 19, color: '#3a3a3a', margin: 10, fontFamily: FONT },
    });

    const names = vals.map((_, ci) => {
      if (ci < 5) return legend[ci];
      if (ci >= n - 3) return legend[5 + ci - (n - 3)];
      return `${PANEL_LETTERS[pi]}-${ci}`;
    });

    vals.forEach((v, ci) => {
      const isZero = ci === 0;
      const isTop = ci === n - 1;
      series.push({
        type: 'line', name: names[ci], xAxisIndex: pi, yAxisIndex: pi,
        data: WL.map((w, k) => [w, v[k]]),
        smooth: 0.4, symbol: 'none', showSymbol: false, silent: true,
        lineStyle: { color: colorFor(pi, ci, n), width: isTop ? 2.6 : (ci >= n - 3 ? 2 : 1.7), type: isZero ? [4, 3] : 'solid' },
        z: isZero ? 3 : 2,
      });
    });

    series.push({
      type: 'line', name: `marker-${pi}`, xAxisIndex: pi, yAxisIndex: pi,
      data: [[MARKER_WL[pi], 0]], symbol: 'none', showSymbol: false, silent: true,
      lineStyle: { opacity: 0 }, z: 4,
      markLine: {
        silent: true, symbol: ['none', 'arrow'], symbolSize: 7, animation: false,
        label: { show: false },
        lineStyle: { color: '#3a3a3a', type: [3, 2], width: 1.5 },
        data: [[{ coord: [MARKER_WL[pi], 0] }, { coord: [MARKER_WL[pi], MARKER_TOP[pi]] }]],
      },
    });

    // panel letter
    graphic.push({ type: 'text', x: L.letter[0], y: L.letter[1], z: 100,
      style: { text: PANEL_LETTERS[pi], fontSize: 48, fontFamily: FONT, fill: '#111', align: 'left', verticalAlign: 'middle' } });

    // legend
    const legendIdx = [0, 1, 2, 3, 4, n - 3, n - 2, n - 1];
    legendIdx.forEach((si, li) => {
      const block = li < 5 ? L.up : L.low;
      const y = li < 5 ? L.up.ys[li] : L.low.ys[li - 5];
      const dashed = si === 0;
      graphic.push({ type: 'line', z: 100,
        shape: { x1: block.l1, y1: y, x2: dashed ? block.l2 - 6 : block.l2, y2: y },
        style: { stroke: colorFor(pi, si, n), lineWidth: 2, lineDash: dashed ? [5, 4] : null } });
      graphic.push({ type: 'text', x: dashed ? block.tx + 2 : block.tx, y, z: 100,
        style: { text: legend[li], fontSize: 25, fontFamily: FONT, fill: '#2a2a2a', align: 'left', verticalAlign: 'middle' } });
    });

    // black down arrow between legend groups
    const [ax, ay1, ay2] = L.arrow;
    graphic.push({ type: 'rect', z: 100, shape: { x: ax - 2, y: ay1, width: 4, height: ay2 - ay1 - 31 }, style: { fill: '#111' } });
    graphic.push({ type: 'polygon', z: 100, shape: { points: [[ax - 5.5, ay2 - 33], [ax + 5.5, ay2 - 33], [ax, ay2]] }, style: { fill: '#111' } });
  });

  return { animation: false, backgroundColor: '#ffffff', grid, xAxis, yAxis, series, graphic };
}

export default function App() {
  const ref = useRef<HTMLDivElement>(null);
  useEffect(() => {
    if (!ref.current) return;
    const chart = echarts.init(ref.current, undefined, { renderer: 'svg' });
    chart.setOption(buildOption() as any);
    return () => chart.dispose();
  }, []);
  return <div ref={ref} style={{ position: 'absolute', left: 0, top: 0, width: 897, height: 1327, background: '#fff' }} />;
}
